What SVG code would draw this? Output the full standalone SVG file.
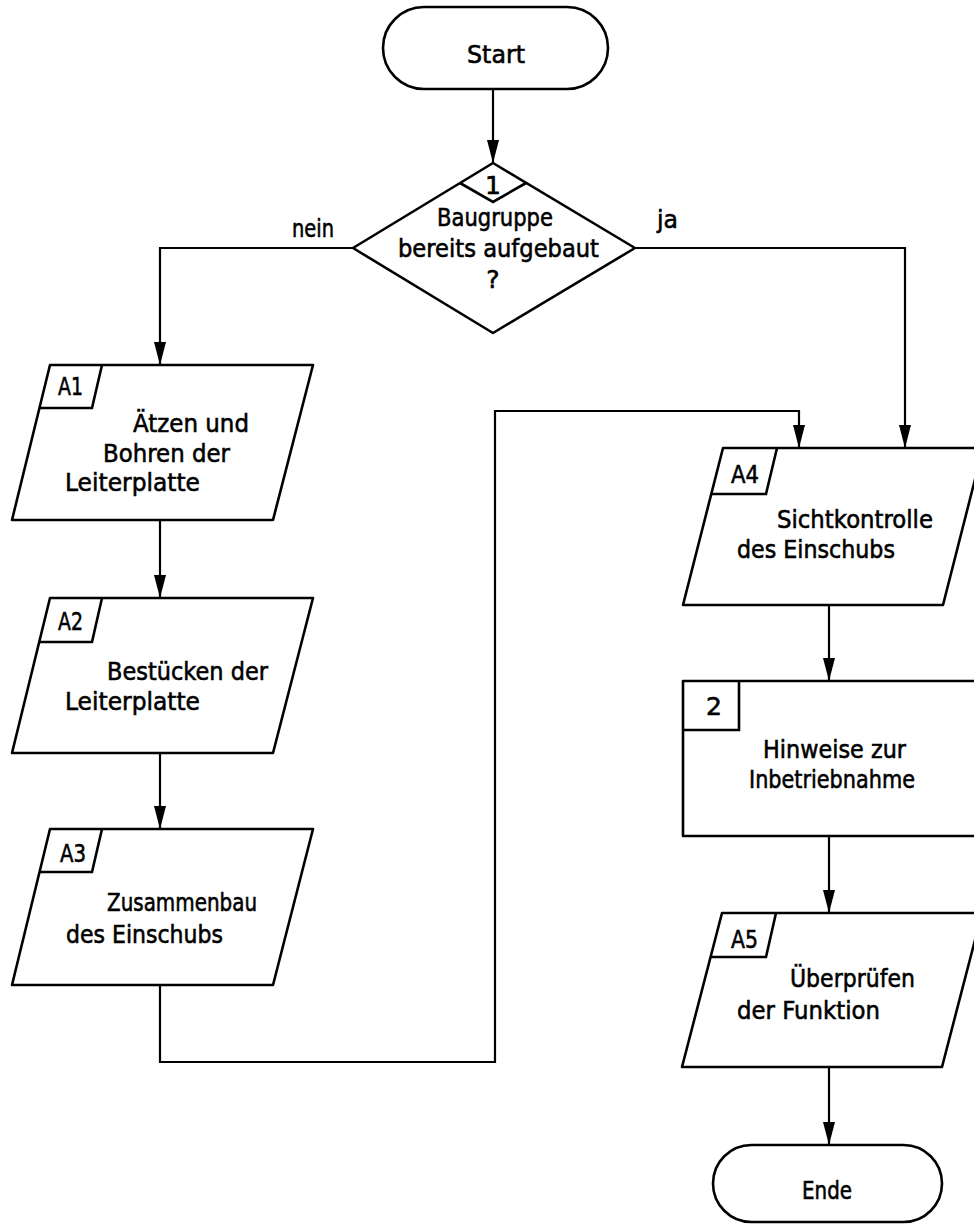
<svg xmlns="http://www.w3.org/2000/svg" width="974" height="1225" viewBox="0 0 974 1225">
<defs>
<style>
.s{fill:#fff;stroke:#000;stroke-width:2.6;stroke-linejoin:round}
.l{fill:none;stroke:#000;stroke-width:2.6;stroke-linejoin:miter}
.c{fill:none;stroke:#000;stroke-width:2.2}
text{font-family:"DejaVu Sans","Liberation Sans",sans-serif;font-size:25px;fill:#000;stroke:#000;stroke-width:0.6}
.m{text-anchor:middle}
</style>
<marker id="ah" markerUnits="userSpaceOnUse" markerWidth="25" markerHeight="14" viewBox="-24 -7 25 14" refX="0" refY="0" orient="auto">
<path d="M0 0 L-23 -6 L-23 6 Z" fill="#000"/>
</marker>
</defs>
<rect width="974" height="1225" fill="#fff"/>
<g id="connectors">
<path class="c" d="M493 89 V163" marker-end="url(#ah)"/>
<path class="c" d="M353 248 H160 V365" marker-end="url(#ah)"/>
<path class="c" d="M635 248 H905 V448" marker-end="url(#ah)"/>
<path class="c" d="M160 520 V598" marker-end="url(#ah)"/>
<path class="c" d="M160 753 V829" marker-end="url(#ah)"/>
<path class="c" d="M160 985 V1062 H495 V411 H799 V448" marker-end="url(#ah)"/>
<path class="c" d="M829 605 V681" marker-end="url(#ah)"/>
<path class="c" d="M829 836 V913" marker-end="url(#ah)"/>
<path class="c" d="M829 1067 V1145" marker-end="url(#ah)"/>
<text x="292" y="237" textLength="42" lengthAdjust="spacingAndGlyphs">nein</text>
<text x="657" y="228" textLength="21" lengthAdjust="spacingAndGlyphs">ja</text>
</g>
<g id="start">
<rect class="s" x="383" y="7" width="225" height="82" rx="41" ry="41"/>
<text x="467" y="63" textLength="58" lengthAdjust="spacingAndGlyphs">Start</text>
</g>
<g id="decision1">
<path class="s" d="M493 163 L635 248 L493 333 L353 248 Z"/>
<path class="l" d="M460 183 L493 202 L526 183"/>
<text class="m" x="493" y="194">1</text>
<text x="437" y="226" textLength="116" lengthAdjust="spacingAndGlyphs">Baugruppe</text>
<text x="398" y="257" textLength="201" lengthAdjust="spacingAndGlyphs">bereits aufgebaut</text>
<text class="m" x="493" y="288">?</text>
</g>
<g id="A1">
<path class="s" d="M50 365 L313 365 L273 520 L12 520 Z"/>
<path class="l" d="M102 365 L92 408 L39 408"/>
<text x="58" y="395" textLength="25" lengthAdjust="spacingAndGlyphs">A1</text>
<text x="133" y="432" textLength="116" lengthAdjust="spacingAndGlyphs">Ätzen und</text>
<text x="103" y="462" textLength="127" lengthAdjust="spacingAndGlyphs">Bohren der</text>
<text x="65" y="491" textLength="135" lengthAdjust="spacingAndGlyphs">Leiterplatte</text>
</g>
<g id="A2">
<path class="s" d="M50 598 L313 598 L273 753 L12 753 Z"/>
<path class="l" d="M102 598 L92 642 L39 642"/>
<text x="58" y="630" textLength="25" lengthAdjust="spacingAndGlyphs">A2</text>
<text x="107" y="680" textLength="161" lengthAdjust="spacingAndGlyphs">Bestücken der</text>
<text x="65" y="710" textLength="135" lengthAdjust="spacingAndGlyphs">Leiterplatte</text>
</g>
<g id="A3">
<path class="s" d="M50 829 L313 829 L273 985 L12 985 Z"/>
<path class="l" d="M102 829 L92 872 L39 872"/>
<text x="60" y="862" textLength="26" lengthAdjust="spacingAndGlyphs">A3</text>
<text x="107" y="911" textLength="150" lengthAdjust="spacingAndGlyphs">Zusammenbau</text>
<text x="66" y="943" textLength="157" lengthAdjust="spacingAndGlyphs">des Einschubs</text>
</g>
<g id="A4">
<path class="s" d="M723 448 L983 448 L943 605 L683 605 Z"/>
<path class="l" d="M777 448 L766 494 L711 494"/>
<text x="731" y="483" textLength="28" lengthAdjust="spacingAndGlyphs">A4</text>
<text x="777" y="528" textLength="156" lengthAdjust="spacingAndGlyphs">Sichtkontrolle</text>
<text x="737" y="558" textLength="158" lengthAdjust="spacingAndGlyphs">des Einschubs</text>
</g>
<g id="step2">
<rect class="s" x="683" y="681" width="310" height="155"/>
<path class="l" d="M683 730 H739 V681"/>
<text class="m" x="714" y="715">2</text>
<text x="763" y="758" textLength="143" lengthAdjust="spacingAndGlyphs">Hinweise zur</text>
<text x="749" y="788" textLength="166" lengthAdjust="spacingAndGlyphs">Inbetriebnahme</text>
</g>
<g id="A5">
<path class="s" d="M722 913 L982 913 L942 1067 L682 1067 Z"/>
<path class="l" d="M776 913 L766 957 L711 957"/>
<text x="731" y="948" textLength="27" lengthAdjust="spacingAndGlyphs">A5</text>
<text x="790" y="987" textLength="125" lengthAdjust="spacingAndGlyphs">Überprüfen</text>
<text x="737" y="1019" textLength="143" lengthAdjust="spacingAndGlyphs">der Funktion</text>
</g>
<g id="ende">
<rect class="s" x="713" y="1145" width="229" height="77" rx="38.5" ry="38.5"/>
<text x="802" y="1199" textLength="50" lengthAdjust="spacingAndGlyphs">Ende</text>
</g>
</svg>
